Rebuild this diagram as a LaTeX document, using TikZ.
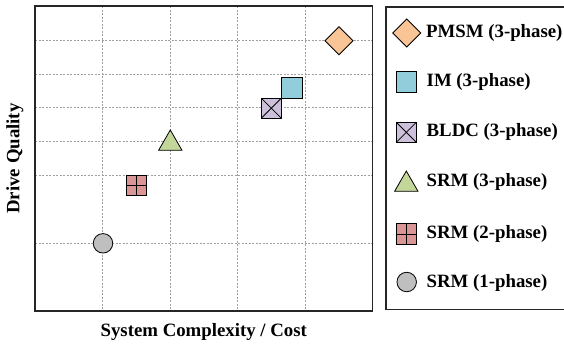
\documentclass[tikz,border=0pt]{standalone}
\usepackage{fontspec}
\setmainfont{Liberation Serif}
\usetikzlibrary{shapes.geometric}
\definecolor{cpmsm}{RGB}{250,197,150}
\definecolor{cim}{RGB}{146,205,220}
\definecolor{cbldc}{RGB}{204,192,218}
\definecolor{csrmthree}{RGB}{196,215,155}
\definecolor{csrmtwo}{RGB}{218,150,148}
\definecolor{csrmone}{RGB}{191,191,191}
\definecolor{cgrid}{RGB}{160,160,160}
\begin{document}
\begin{tikzpicture}[x=1pt,y=-1pt,
  gridline/.style={cgrid, line width=0.6pt, dash pattern=on 2pt off 1.5pt},
  frame/.style={draw=black!85, line width=1.1pt},
  mk/.style={draw=black, line width=0.8pt, inner sep=0pt, outer sep=0pt},
  diamk/.style={mk, diamond, minimum width=28pt, minimum height=28pt, fill=cpmsm},
  sqmk/.style={mk, rectangle, minimum size=20.3pt},
  trimk/.style={mk, regular polygon, regular polygon sides=3, minimum size=27pt, fill=csrmthree},
  cirmk/.style={mk, circle, minimum size=19.5pt, fill=csrmone},
  plusmk/.style={path picture={
      \draw[line width=0.8pt] (path picture bounding box.north) -- (path picture bounding box.south)
        (path picture bounding box.west) -- (path picture bounding box.east);}},
  crossmk/.style={path picture={
      \draw[line width=0.8pt] (path picture bounding box.north west) -- (path picture bounding box.south east)
        (path picture bounding box.south west) -- (path picture bounding box.north east);}},
  lbl/.style={font=\bfseries\fontsize{18.8}{22}\selectfont, inner sep=0pt},
  legtxt/.style={lbl, anchor=west}
]
\useasboundingbox (0,0) rectangle (564,346);
% grid
\foreach \gx in {102.5,170,237.5,305} {\draw[gridline] (\gx,6) -- (\gx,311);}
\foreach \gy in {39.9,73.8,107.7,141.6,175.5,243.3} {\draw[gridline] (35,\gy) -- (372.5,\gy);}
% frame
\draw[frame] (35,6) rectangle (372.5,311);
% axis labels
\node[lbl] (xlab) at (203.75,331.7) {System Complexity / Cost};
\node[lbl, rotate=90] (ylab) at (15,158.5) {Drive Quality};
% data markers
\node[cirmk] (p1) at (103,243.3) {};
\node[sqmk, fill=csrmtwo, plusmk] (p2) at (136.5,185.5) {};
\node[trimk] (p3) at (170.3,143.5) {};
\node[sqmk, fill=cbldc, plusmk, crossmk] (p4) at (271.3,108.2) {};
\node[sqmk, fill=cim] (p5) at (291.8,87.8) {};
\node[diamk] (p6) at (339,40.7) {};
% legend
\draw[frame] (386,7) rectangle (570,309.3);
\node[diamk] (l1) at (406.7,33) {};
\node[legtxt] (t1) at (426,33) {PMSM (3-phase)};
\node[sqmk, fill=cim] (l2) at (406.3,82) {};
\node[legtxt] (t2) at (426.5,82) {IM (3-phase)};
\node[sqmk, fill=cbldc, plusmk, crossmk] (l3) at (406.3,132.3) {};
\node[legtxt] (t3) at (426.5,132.3) {BLDC (3-phase)};
\node[trimk] (l4) at (406.3,184.5) {};
\node[legtxt] (t4) at (426.5,182) {SRM (3-phase)};
\node[sqmk, fill=csrmtwo, plusmk] (l5) at (406.3,234) {};
\node[legtxt] (t5) at (426.5,234) {SRM (2-phase)};
\node[cirmk] (l6) at (406.7,282) {};
\node[legtxt] (t6) at (426.5,283) {SRM (1-phase)};
\end{tikzpicture}
\end{document}
